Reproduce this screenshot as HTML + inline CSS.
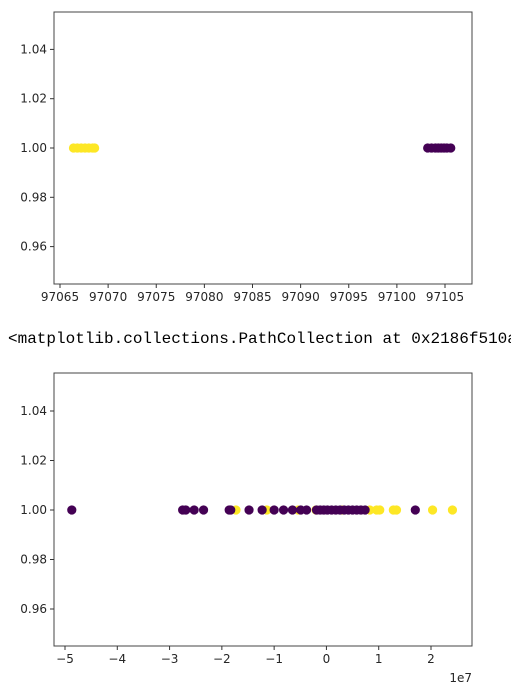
<!DOCTYPE html>
<html><head><meta charset="utf-8"><style>
body{margin:0;background:#fff;width:511px;height:694px;overflow:hidden;font-family:"DejaVu Sans","Liberation Sans",sans-serif}
#out{position:absolute;left:8px;top:330px;font-family:"Liberation Mono",monospace;font-size:16px;color:#000;white-space:nowrap}
</style></head><body>
<svg id="c1" width="511" height="320" style="position:absolute;left:0;top:0"></svg>
<div id="out">&lt;matplotlib.collections.PathCollection at 0x2186f510a</div>
<svg id="c2" width="511" height="374" style="position:absolute;left:0;top:320px"></svg>
<script>
const topYellowX=[97066.4,97066.8,97067.2,97067.6,97068.0,97068.4,97068.6];
const topPurpleX=[97103.2,97103.6,97104.0,97104.3,97104.6,97104.9,97105.2,97105.6];
const topXTicks=[97065,97070,97075,97080,97085,97090,97095,97100,97105];
const yTicks=[0.96,0.98,1.00,1.02,1.04];
const yTickLabels=["0.96","0.98","1.00","1.02","1.04"];
const botPurpleX=[-4.87,-2.75,-2.69,-2.53,-2.35,-1.86,-1.83,-1.48,-1.23,-1.00,-0.82,-0.65,-0.49,-0.38,-0.19,-0.12,-0.05,0.02,0.1,0.18,0.26,0.34,0.42,0.5,0.58,0.66,0.74,1.70];
const botYellowX=[-1.73,-1.14,-0.54,-0.2,0.3,0.83,0.96,1.02,1.28,1.34,2.03,2.41];
const botXTicks=[-5,-4,-3,-2,-1,0,1,2];
const botXTickLabels=["−5","−4","−3","−2","−1","0","1","2"];
const NS="http://www.w3.org/2000/svg";
function mk(svg,tag,attrs,name,text){const e=document.createElementNS(NS,tag);for(const k in attrs)e.setAttribute(k,attrs[k]);


if(text!==undefined)e.textContent=text;svg.appendChild(e);return e;}
function chart(svg,L,R,T,B,xs,ys,xt,xtl,pts){
 mk(svg,'rect',{x:L,y:T,width:R-L,height:B-T,fill:'#fff',stroke:'#444','stroke-width':1},'plot-area');
 yTicks.forEach((v,i)=>{const y=ys(v);mk(svg,'line',{x1:L-4,x2:L,y1:y,y2:y,stroke:'#333'},'y-tick');
  mk(svg,'text',{x:L-7,y:y+4,'text-anchor':'end','font-size':12,fill:'#262626'},'y-tick-label',yTickLabels[i]);});
 xt.forEach((v,i)=>{const x=xs(v);mk(svg,'line',{x1:x,x2:x,y1:B,y2:B+4,stroke:'#333'},'x-tick');
  mk(svg,'text',{x:x,y:B+17,'text-anchor':'middle','font-size':12,fill:'#262626'},'x-tick-label',xtl[i]);});
 pts.forEach(p=>p.xs.forEach(v=>mk(svg,'circle',{cx:xs(v),cy:ys(1.0),r:4.6,fill:p.c},p.n)));
}
const s1=document.getElementById('c1');
const x1=v=>60+(v-97065)*(385/40), y1=v=>148-(v-1.0)*(49.3/0.02);
chart(s1,54,472,12,284,x1,y1,topXTicks,topXTicks.map(String),[{xs:topYellowX,c:'#fde725',n:'point-yellow'},{xs:topPurpleX,c:'#440154',n:'point-purple'}]);
const s2=document.getElementById('c2');
const x2=v=>65+(v+5)*(366/7), y2=v=>190-(v-1.0)*(49.5/0.02);
chart(s2,54,472,53,326,x2,y2,botXTicks,botXTickLabels,[{xs:botYellowX,c:'#fde725',n:'point-yellow'},{xs:botPurpleX,c:'#440154',n:'point-purple'}]);
mk(s2,'text',{x:472,y:362,'text-anchor':'end','font-size':12,fill:'#262626'},'x-axis-offset-label','1e7');
</script>
</body></html>
